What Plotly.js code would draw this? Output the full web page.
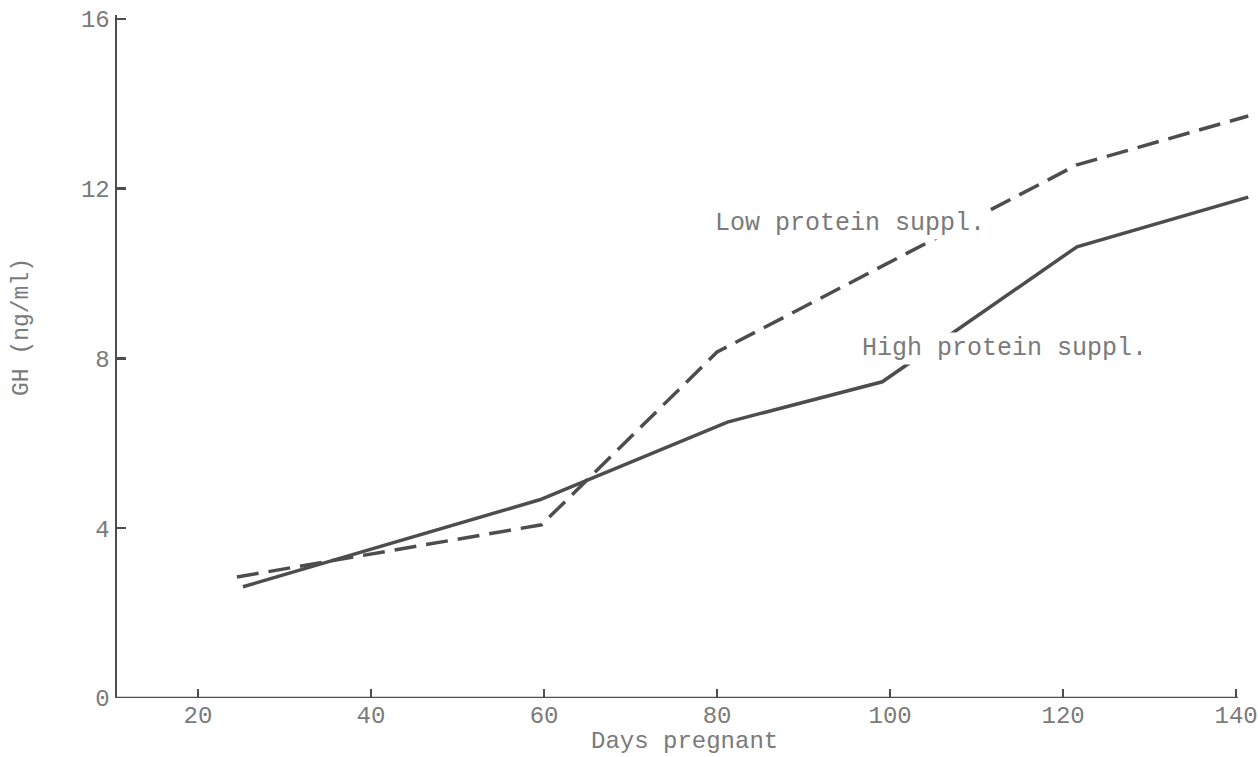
<!DOCTYPE html>
<html>
<head>
<meta charset="utf-8">
<script src="https://cdn.plot.ly/plotly-3.0.1.min.js"></script>
<style>html,body{margin:0;padding:0;background:#fff;}#chart{width:1258px;height:757px;}</style>
</head>
<body>
<div id="chart"></div>
<script>
// Days pregnant and GH (ng/ml)
const highDays = [25.2, 59.5, 81.2, 99.1, 121.6, 141.4];
const highGH   = [2.62, 4.67, 6.50, 7.45, 10.63, 11.80];
const lowDays  = [24.5, 59.7, 80.0, 121.6, 141.4];
const lowGH    = [2.85, 4.08, 8.15, 12.56, 13.71];
const xTicks = [20, 40, 60, 80, 100, 120, 140];
const yTicks = [0, 4, 8, 12, 16];
const highLabel = "High protein suppl.";
const lowLabel = "Low protein suppl.";
const xTitle = "Days pregnant";
const yTitle = "GH (ng/ml)";

const ink = '#4d4d4d';
const textCol = '#7a7a7a';
const mono = 'Liberation Mono, Courier New, monospace';

const traces = [
  {x: highDays, y: highGH, mode: 'lines', name: highLabel,
   line: {color: ink, width: 3.5}},
  {x: lowDays, y: lowGH, mode: 'lines', name: lowLabel,
   line: {color: ink, width: 3.5, dash: '22px,10px'}}
];

const layout = {
  width: 1258, height: 757,
  margin: {l: 117, r: 8, t: 15, b: 59},
  paper_bgcolor: '#fff', plot_bgcolor: '#fff',
  showlegend: false,
  font: {family: mono, size: 24, color: textCol},
  xaxis: {
    range: [10.64, 141.6], showgrid: false, zeroline: false, showline: false,
    tickmode: 'array', tickvals: xTicks, ticktext: xTicks.map(String),
    ticks: 'inside', ticklen: 9, tickwidth: 2.5, tickcolor: ink,
    tickfont: {family: mono, size: 24, color: textCol}
  },
  yaxis: {
    range: [0, 16.09], showgrid: false, zeroline: false,
    showline: true, linecolor: ink, linewidth: 2.5,
    tickmode: 'array', tickvals: yTicks, ticktext: yTicks.map(String),
    ticks: 'inside', ticklen: 9, tickwidth: 2.5, tickcolor: ink,
    tickfont: {family: mono, size: 24, color: textCol}
  },
  shapes: [
    {type: 'line', xref: 'x', yref: 'y', x0: 10.64, x1: 140.2, y0: 0, y1: 0,
     line: {color: ink, width: 2.5}, layer: 'above'}
  ],
  annotations: [
    {text: lowLabel, xref: 'paper', yref: 'paper', x: (850-117)/1133, y: (698-223)/683,
     showarrow: false, xanchor: 'center', yanchor: 'middle', bgcolor: '#fff',
     font: {family: mono, size: 25, color: textCol}},
    {text: highLabel, xref: 'paper', yref: 'paper', x: (1004-117)/1133, y: (698-348)/683,
     showarrow: false, xanchor: 'center', yanchor: 'middle', bgcolor: '#fff',
     font: {family: mono, size: 25, color: textCol}},
    {text: xTitle, xref: 'paper', yref: 'paper', x: (684-117)/1133, y: (698-741)/683,
     showarrow: false, xanchor: 'center', yanchor: 'middle',
     font: {family: mono, size: 24, color: textCol}},
    {text: yTitle, xref: 'paper', yref: 'paper', x: (22-117)/1133, y: (698-327)/683,
     showarrow: false, xanchor: 'center', yanchor: 'middle', textangle: -90,
     font: {family: mono, size: 23, color: textCol}}
  ]
};

Plotly.newPlot('chart', traces, layout, {displayModeBar: false, staticPlot: true});
</script>
</body>
</html>
